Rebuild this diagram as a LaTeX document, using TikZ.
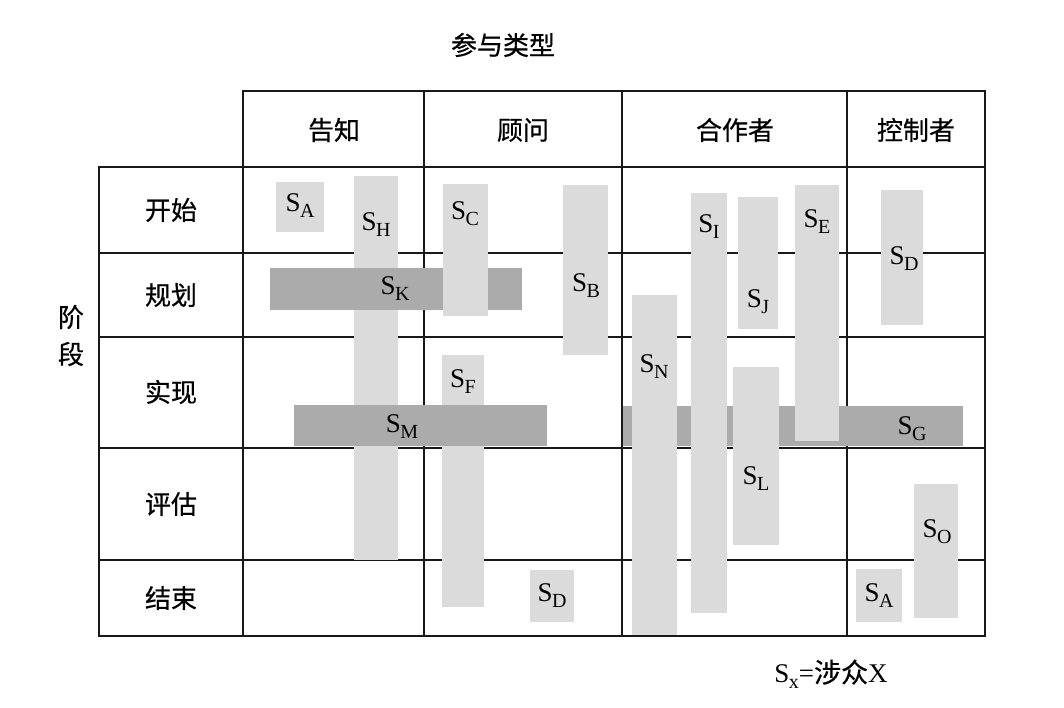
\documentclass[tikz,border=0pt]{standalone}
\usepackage{fontspec}
\setmainfont{Liberation Serif}
\newfontfamily\cjk[FakeBold=0.6]{Noto Sans CJK SC}
\newcommand\stk[1]{S\kern-0.02em\raisebox{-6pt}{\fontsize{20}{20}\selectfont #1}}
\begin{document}
\begin{tikzpicture}[x=1pt,y=-1pt,
  gridline/.style={line width=2pt,line cap=rect,black!90},
  lbar/.style={fill=gray!28},
  dbar/.style={fill=gray!66},
  lab/.style={font=\fontsize{27}{27}\selectfont,inner sep=0pt},
  zh/.style={font=\cjk\fontsize{26}{26}\selectfont,inner sep=0pt}]
\useasboundingbox[fill=white] (0,0) rectangle (1064,707);
% grid
\draw[gridline] (243,91) -- (985,91);
\foreach \yy in {167,253,337,448,560,636}
  \draw[gridline] (99,\yy) -- (985,\yy);
\draw[gridline] (99,167) -- (99,636);
\foreach \xx in {243,424,622,847,985}
  \draw[gridline] (\xx,91) -- (\xx,636);
% bars, inform column
\fill[lbar] (276,182) rectangle (324,232);
\fill[lbar] (354,176) rectangle (398,560);
\fill[lbar] (442,355) rectangle (484,607);
\fill[dbar] (270,268) rectangle (522,310);
\fill[dbar] (294,405) rectangle (547,446);
\fill[lbar] (443,184) rectangle (488,316);
\fill[lbar] (530,570) rectangle (574,622);
\fill[lbar] (563,185) rectangle (608,355);
% collaborator column
\fill[dbar] (623,406) rectangle (963,446);
\fill[lbar] (632,295) rectangle (677,635);
\fill[lbar] (691,193) rectangle (727,613);
\fill[lbar] (738,197) rectangle (778,329);
\fill[lbar] (795,185) rectangle (839,441);
\fill[lbar] (733,367) rectangle (779,545);
% controller column
\fill[lbar] (881,190) rectangle (923,325);
\fill[lbar] (914,484) rectangle (958,618);
\fill[lbar] (856,569) rectangle (902,622);
% titles
\node[zh] (title) at (503,45) {参与类型};
\node[zh] (c1) at (334,130) {告知};
\node[zh] (c2) at (523,130) {顾问};
\node[zh] (c3) at (735,130) {合作者};
\node[zh] (c4) at (916,130) {控制者};
\node[zh] (r1) at (171,210) {开始};
\node[zh] (r2) at (171,295) {规划};
\node[zh] (r3) at (171,392) {实现};
\node[zh] (r4) at (171,504) {评估};
\node[zh] (r5) at (171,598) {结束};
\node[zh] (p1) at (71,317) {阶};
\node[zh] (p2) at (71,354) {段};
% labels
\node[lab] (la1) at (300,206) {\stk{A}};
\node[lab] (lh) at (376,225) {\stk{H}};
\node[lab] (lc) at (465,214) {\stk{C}};
\node[lab] (lk) at (395,289) {\stk{K}};
\node[lab] (lf) at (463,382) {\stk{F}};
\node[lab] (lm) at (402,427) {\stk{M}};
\node[lab] (ld2) at (552,596) {\stk{D}};
\node[lab] (lb) at (586,286) {\stk{B}};
\node[lab] (li) at (709,227) {\stk{I}};
\node[lab] (lj) at (758,302) {\stk{J}};
\node[lab] (le) at (817,222) {\stk{E}};
\node[lab] (ld) at (904,259) {\stk{D}};
\node[lab] (ln) at (654,367) {\stk{N}};
\node[lab] (ll) at (756,479) {\stk{L}};
\node[lab] (lg) at (912,429) {\stk{G}};
\node[lab] (lo) at (937,532) {\stk{O}};
\node[lab] (la2) at (879,596) {\stk{A}};
% legend
\node[lab] (legend) at (831,674) {\stk{x}={\cjk 涉众}X};
\end{tikzpicture}
\end{document}
